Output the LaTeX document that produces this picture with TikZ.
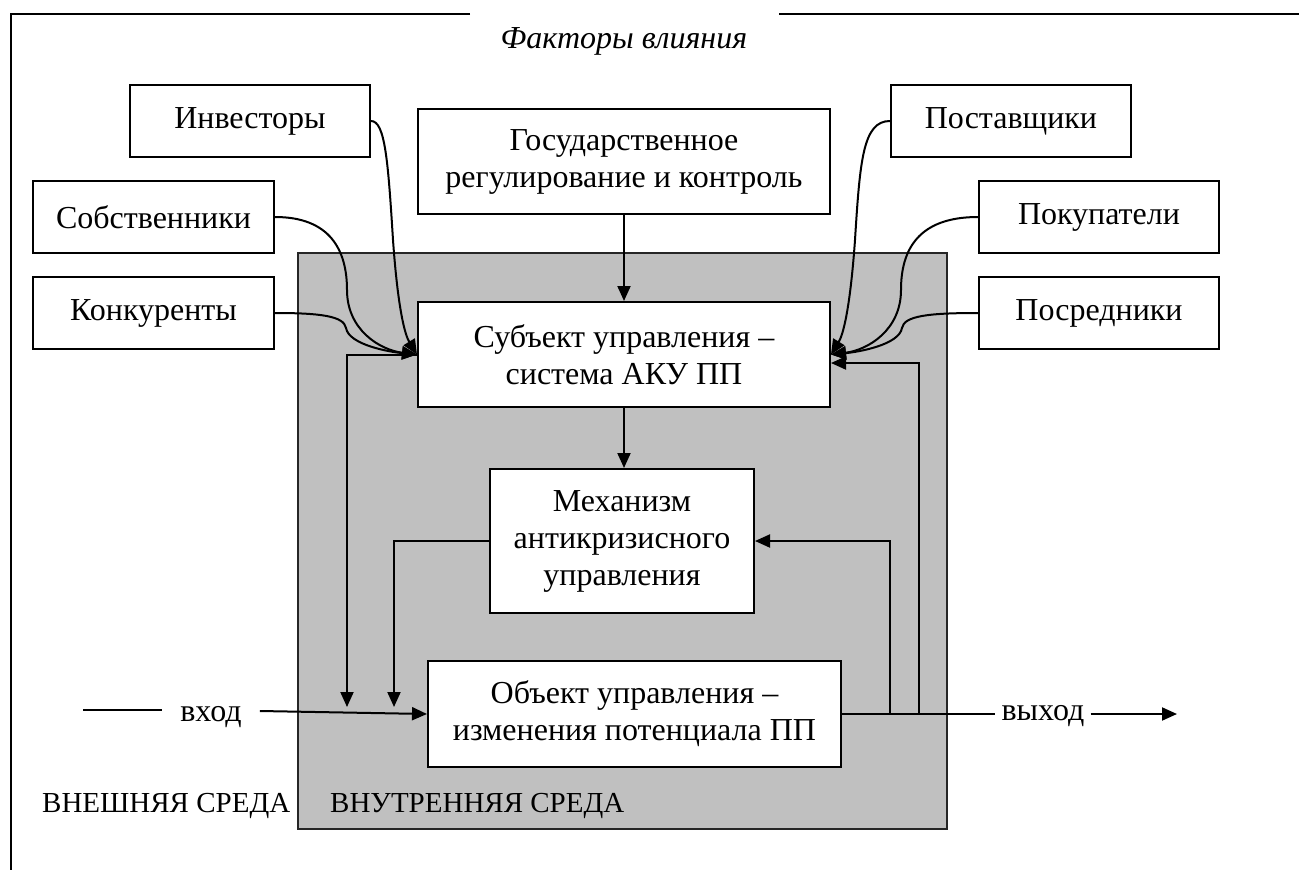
\documentclass[tikz,border=0pt]{standalone}
\usepackage{fontspec}
\setmainfont{Liberation Serif}
\usetikzlibrary{arrows.meta}
\definecolor{envgray}{RGB}{192,192,192}
\begin{document}
\begin{tikzpicture}[x=1pt,y=-1pt,
  every node/.style={font=\fontsize{32}{37}\selectfont},
  box/.style={draw, line width=2pt, fill=white, align=center, inner sep=0pt},
  wire/.style={line width=2pt},
  arr/.style={wire, -{Triangle[length=15pt,width=13pt]}},
  lbl/.style={inner sep=0pt},
  envlbl/.style={inner sep=0pt, anchor=base west, font=\fontsize{29}{34}\selectfont}]
\useasboundingbox (0,0) rectangle (1299,870);

% outer frame, open at the title
\draw[wire] (470,14) -- (11,14) -- (11,875);
\draw[wire] (779,14) -- (1305,14);
\node[lbl, anchor=base] (title) at (624,48) {\itshape Факторы влияния};

% internal environment
\filldraw[fill=envgray, draw=black!85, line width=1.5pt] (298,253) rectangle (947,829);
\node[envlbl] (ext) at (42,812) {ВНЕШНЯЯ СРЕДА};
\node[envlbl] (int) at (330,812) {ВНУТРЕННЯЯ СРЕДА};

% external factors
\node[box, minimum width=240pt, minimum height=72pt] (inv)  at (250,121)   {Инвесторы};
\node[box, minimum width=241pt, minimum height=72pt] (sob)  at (153.5,217) {Собственники};
\node[box, minimum width=241pt, minimum height=72pt] (kon)  at (153.5,313) {Конкуренты};
\node[box, minimum width=412pt, minimum height=105pt] (gos) at (624,161.5) {Государственное\\регулирование и контроль};
\node[box, minimum width=240pt, minimum height=72pt] (post) at (1011,121)  {Поставщики};
\node[box, minimum width=240pt, minimum height=72pt] (pok)  at (1099,217)  {Покупатели};
\node[box, minimum width=240pt, minimum height=72pt] (posr) at (1099,313)  {Посредники};

% control loop
\node[box, minimum width=412pt, minimum height=105pt] (subj) at (624,354.5) {Субъект управления –\\система АКУ ПП};
\node[box, minimum width=264pt, minimum height=144pt] (mech) at (622,541)   {Механизм\\антикризисного\\управления};
\node[box, minimum width=413pt, minimum height=106pt] (obj)  at (634.5,714) {Объект управления –\\изменения потенциала ПП};

% input and output
\coordinate (inStart) at (83,710);
\node[anchor=base, inner xsep=18pt, inner ysep=0pt] (vhod) at (211,721) {вход};
\node[anchor=base, inner xsep=6pt, inner ysep=0pt] (vyhod) at (1043,720) {выход};
\coordinate (outEnd) at (1177,714);
\coordinate (tap1) at (890,714);
\coordinate (tap2) at (919,714);
\coordinate (fb1) at (347,707);
\coordinate (fb2) at (394,707);

\draw[wire] (inStart) -- (vhod.west |- inStart);
\draw[arr] (vhod.east |- 0,711) -- (obj.west);
\draw[wire] (obj.east) -- (vyhod.west |- obj.east);
\draw[arr] (vyhod.east |- obj.east) -- (outEnd);

% straight links
\draw[arr] (gos.south) -- (subj.north);
\draw[arr] (subj.south) -- (subj.south |- mech.north);
\draw[arr] (subj.west) -| (fb1);
\draw[arr] (mech.west) -| (fb2);
\draw[arr] (tap1) |- (mech.east);
\draw[arr] (tap2) |- ([yshift=-8.5pt]subj.east);

% influence curves, left
\draw[arr] (inv.east) .. controls (385,121) and (388,160) .. (393,240)
                      .. controls (398,310) and (405,335) .. (subj.west);
\draw[arr] (sob.east) .. controls (330,217) and (347,250) .. (347,290)
                      .. controls (347,330) and (380,350) .. (subj.west);
\draw[arr] (kon.east) .. controls (320,313) and (344,316) .. (346,328)
                      .. controls (349,345) and (390,352) .. (subj.west);

% influence curves, right
\draw[arr] (post.west) .. controls (863,121) and (860,160) .. (855,240)
                       .. controls (850,310) and (843,335) .. (subj.east);
\draw[arr] (pok.west) .. controls (918,217) and (901,250) .. (901,290)
                      .. controls (901,330) and (868,350) .. (subj.east);
\draw[arr] (posr.west) .. controls (928,313) and (904,316) .. (902,328)
                       .. controls (899,345) and (858,352) .. (subj.east);
\end{tikzpicture}
\end{document}
